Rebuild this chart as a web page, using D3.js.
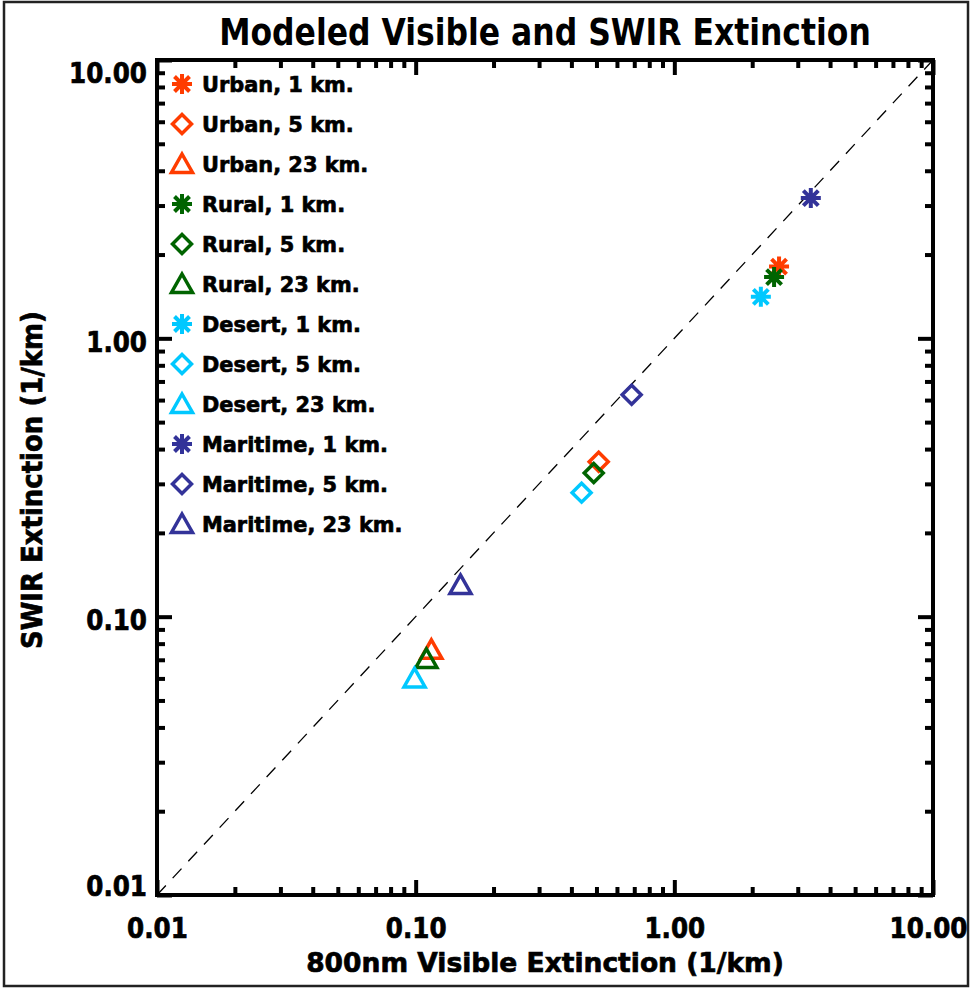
<!DOCTYPE html>
<html>
<head>
<meta charset="utf-8">
<script src="https://cdn.jsdelivr.net/npm/d3@7/dist/d3.min.js"></script>
<style>
  body { margin: 0; background: #fff; }
  text { font-family: "DejaVu Sans", sans-serif; font-weight: bold; fill: #000; }
  .heavy { stroke: #000; stroke-width: 0.7px; }
</style>
</head>
<body>
<div class="chart"></div>
<script>
var svgWidth = 971;
var svgHeight = 988;

// plot box inside the svg
var box = { left: 157, right: 933, top: 60, bottom: 895 };

// data
var aerosols = ["Urban", "Rural", "Desert", "Maritime"];
var visibilities = ["1 km.", "5 km.", "23 km."];
var symbols = ["asterisk", "diamond", "triangle"];
var colors = ["#ff3c00", "#006400", "#00c8ff", "#333399"];

var urbanVis = [2.54, 0.51, 0.115];
var urbanSwir = [1.81, 0.36, 0.076];
var ruralVis = [2.43, 0.488, 0.110];
var ruralSwir = [1.66, 0.328, 0.0705];
var desertVis = [2.16, 0.438, 0.099];
var desertSwir = [1.41, 0.279, 0.060];
var maritimeVis = [3.37, 0.684, 0.149];
var maritimeSwir = [3.19, 0.627, 0.130];

var visValues = [urbanVis, ruralVis, desertVis, maritimeVis];
var swirValues = [urbanSwir, ruralSwir, desertSwir, maritimeSwir];

var majorTicks = [0.01, 0.1, 1, 10];

// build point table
var points = [];
aerosols.forEach(function (a, i) {
  visibilities.forEach(function (v, j) {
    points.push({ name: a + ", " + v, color: colors[i], symbol: symbols[j], x: visValues[i][j], y: swirValues[i][j] });
  });
});

var minorTicks = [];
[0.01, 0.1, 1].forEach(function (d) {
  for (var k = 2; k <= 9; k++) minorTicks.push(d * k);
});

var svg = d3.select(".chart")
  .append("svg")
  .attr("width", svgWidth)
  .attr("height", svgHeight);

// outer frame
svg.append("rect")
  .attr("x", 4).attr("y", 2)
  .attr("width", 964).attr("height", 984)
  .attr("fill", "none")
  .attr("stroke", "#222")
  .attr("stroke-width", 2.5);

var xScale = d3.scaleLog().domain([0.01, 10]).range([box.left, box.right]);
var yScale = d3.scaleLog().domain([0.01, 10]).range([box.bottom, box.top]);

// squeeze text horizontally about its anchor (the original font is narrow)
function squeeze(sel, f) {
  sel.each(function () {
    var t = d3.select(this);
    var x = +t.attr("x") || 0;
    var y = +t.attr("y") || 0;
    t.attr("transform", "translate(" + x + "," + y + ") scale(" + f + ",1) translate(" + (-x) + "," + (-y) + ")");
  });
}

function drawAxis(axisFn, transform, values, size, fmt) {
  var g = svg.append("g")
    .attr("transform", transform)
    .call(axisFn.tickValues(values).tickSize(size).tickFormat(fmt));
  g.select(".domain").remove();
  g.selectAll("line").attr("stroke", "#000").attr("stroke-width", 4);
  return g;
}

// minor ticks, all four sides, pointing inward
drawAxis(d3.axisBottom(xScale), "translate(0," + box.bottom + ")", minorTicks, -8, "");
drawAxis(d3.axisTop(xScale), "translate(0," + box.top + ")", minorTicks, -8, "");
drawAxis(d3.axisLeft(yScale), "translate(" + box.left + ",0)", minorTicks, -8, "");
drawAxis(d3.axisRight(yScale), "translate(" + box.right + ",0)", minorTicks, -8, "");

// major ticks
var fmt = d3.format(".2f");
var xAxis = drawAxis(d3.axisBottom(xScale).tickPadding(23), "translate(0," + box.bottom + ")", majorTicks, -15, fmt);
drawAxis(d3.axisTop(xScale), "translate(0," + box.top + ")", majorTicks, -15, "");
var yAxis = drawAxis(d3.axisLeft(yScale).tickPadding(10), "translate(" + box.left + ",0)", majorTicks, -15, fmt);
drawAxis(d3.axisRight(yScale), "translate(" + box.right + ",0)", majorTicks, -15, "");

xAxis.selectAll("text")
  .attr("font-size", 28).attr("font-family", null).attr("fill", "#000")
  .attr("class", "heavy")
  .attr("dy", "0.71em")
  .attr("x", function (d) { return d == 10 ? -5 : 0; });
yAxis.selectAll("text")
  .attr("font-size", 28).attr("font-family", null).attr("fill", "#000")
  .attr("class", "heavy")
  .attr("dy", function (d) {
    // labels sit a little below their tick, kept inside the box
    var base = Math.min(Math.max(yScale(d) + 13, box.top + 22), box.bottom);
    return (base - yScale(d)) + "px";
  });
squeeze(xAxis.selectAll("text"), 0.88);
squeeze(yAxis.selectAll("text"), 0.88);

// plot frame
svg.append("rect")
  .attr("x", box.left).attr("y", box.top)
  .attr("width", box.right - box.left).attr("height", box.bottom - box.top)
  .attr("fill", "none")
  .attr("stroke", "#000")
  .attr("stroke-width", 4);

// 1:1 line
svg.append("line")
  .attr("x1", xScale(0.01)).attr("y1", yScale(0.01))
  .attr("x2", xScale(10)).attr("y2", yScale(10))
  .attr("stroke", "#000")
  .attr("stroke-width", 1.3)
  .attr("stroke-dasharray", "13,10");

// symbol paths centred on 0,0
function symbolPath(kind) {
  if (kind == "asterisk") {
    var r = 10, d = 7.5;
    return "M" + (-r) + ",0L" + r + ",0M0," + (-r) + "L0," + r +
      "M" + (-d) + "," + (-d) + "L" + d + "," + d + "M" + (-d) + "," + d + "L" + d + "," + (-d);
  } else if (kind == "diamond") {
    return "M0,-9.5L9.5,0L0,9.5L-9.5,0Z";
  } else {
    return "M0,-10L10.5,8.5L-10.5,8.5Z";
  }
}

svg.selectAll(".pt")
  .data(points)
  .enter()
  .append("path")
  .attr("class", "pt")
  .attr("transform", function (d) { return "translate(" + xScale(d.x) + "," + yScale(d.y) + ")"; })
  .attr("d", function (d) { return symbolPath(d.symbol); })
  .attr("fill", "none")
  .attr("stroke", function (d) { return d.color; })
  .attr("stroke-width", function (d) { return d.symbol == "asterisk" ? 4 : 3.5; })
  .attr("stroke-linejoin", "miter");

// legend
var legend = svg.append("g");
var rows = legend.selectAll("g")
  .data(points)
  .enter()
  .append("g")
  .attr("transform", function (d, i) { return "translate(182," + (84 + i * 40) + ")"; });

rows.append("path")
  .attr("d", function (d) { return symbolPath(d.symbol); })
  .attr("fill", "none")
  .attr("stroke", function (d) { return d.color; })
  .attr("stroke-width", function (d) { return d.symbol == "asterisk" ? 4 : 3.5; });

var legendText = rows.append("text")
  .attr("x", 20)
  .attr("y", 8)
  .attr("font-size", 22)
  .attr("class", "heavy")
  .text(function (d) { return d.name; });
squeeze(legendText, 0.95);

// title, scaled to the width it has in the original
var title = svg.append("text")
  .attr("x", (box.left + box.right) / 2)
  .attr("y", 45)
  .attr("text-anchor", "middle")
  .attr("font-size", 37)
  .text("Modeled Visible and SWIR Extinction");
squeeze(title, 652 / title.node().getComputedTextLength());

// x axis title
var xTitle = svg.append("text")
  .attr("x", (box.left + box.right) / 2)
  .attr("y", 972)
  .attr("text-anchor", "middle")
  .attr("font-size", 27)
  .attr("class", "heavy")
  .text("800nm Visible Extinction (1/km)");
squeeze(xTitle, 478 / xTitle.node().getComputedTextLength());

// y axis title
var yTitle = svg.append("text")
  .attr("text-anchor", "middle")
  .attr("font-size", 28)
  .attr("class", "heavy")
  .text("SWIR Extinction (1/km)");
yTitle.attr("transform", "translate(42,480) rotate(-90) scale(" + (338 / yTitle.node().getComputedTextLength()) + ",1)");
</script>
</body>
</html>
